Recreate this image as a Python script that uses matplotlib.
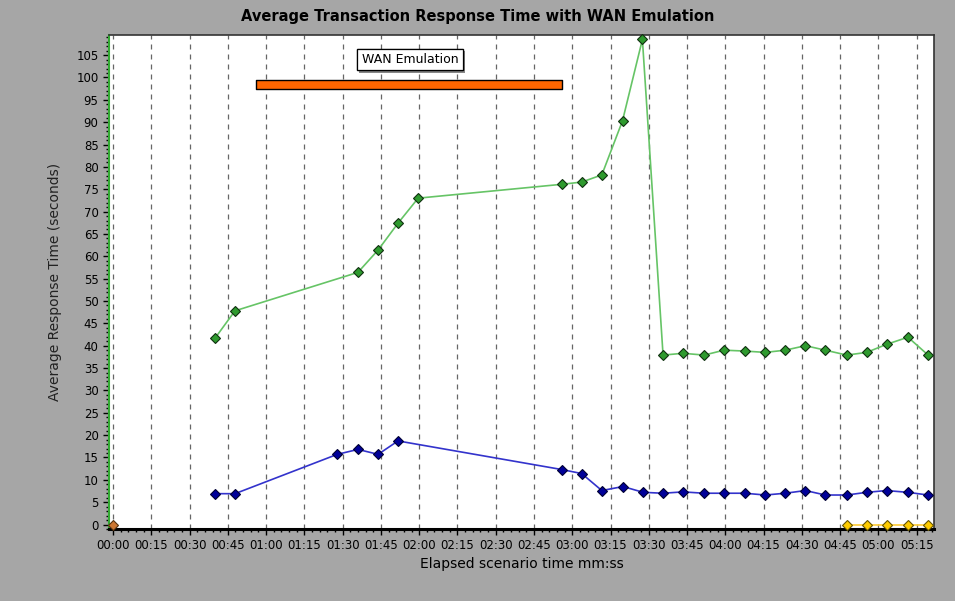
import matplotlib
matplotlib.use("Agg")
import matplotlib.pyplot as plt
from matplotlib.ticker import MultipleLocator, FuncFormatter
import matplotlib.patheffects as pe

# ---- data (times in seconds) ----
green_t = [40, 47.8, 96, 103.9, 111.7, 119.6, 175.9, 183.7, 191.6, 199.7, 207.5,
           215.6, 223.4, 231.7, 239.5, 247.6, 255.7, 263.5, 271.4, 279.2, 287.6,
           295.4, 303.2, 311.6, 319.5]
green_v = [41.7, 47.8, 56.4, 61.4, 67.4, 73.0, 76.1, 76.6, 78.2, 90.3, 108.5,
           37.9, 38.3, 37.9, 39.0, 38.8, 38.5, 39.0, 40.0, 39.0, 37.9,
           38.5, 40.3, 41.9, 37.9]

blue_t = [40, 47.8, 87.9, 96, 103.9, 111.7, 175.9, 183.7, 191.6, 199.9, 207.8,
          215.6, 223.4, 231.7, 239.5, 247.6, 255.7, 263.5, 271.4, 279.2, 287.6,
          295.4, 303.2, 311.6, 319.5]
blue_v = [6.9, 6.9, 15.7, 16.8, 15.7, 18.7, 12.3, 11.4, 7.6, 8.5, 7.2,
          7.0, 7.3, 7.0, 7.0, 7.0, 6.6, 7.0, 7.6, 6.6, 6.6,
          7.2, 7.6, 7.2, 6.6]

yellow_t = [287.6, 295.4, 303.2, 311.6, 319.5]
yellow_v = [0, 0, 0, 0, 0]

brown_t = [0]
brown_v = [0]

wan_start = 55.9
wan_end = 176.1
wan_label = "WAN Emulation"

bg = "#a6a6a6"
fig = plt.figure(figsize=(9.55, 6.01), dpi=100, facecolor=bg)
ax = fig.add_axes([0.1141, 0.1198, 0.978 - 0.1141, 0.9418 - 0.1198])
ax.set_facecolor("white")

ax.set_xlim(-1.6, 321.8)
ax.set_ylim(-1.0, 109.5)
ax.xaxis.set_major_locator(MultipleLocator(15))
ax.xaxis.set_minor_locator(MultipleLocator(3))
ax.yaxis.set_major_locator(MultipleLocator(5))
ax.yaxis.set_minor_locator(MultipleLocator(1))
ax.xaxis.grid(True, which="major", color="#666666", linestyle=(0, (4, 4)), linewidth=0.9)
ax.yaxis.grid(False)

ax.xaxis.set_major_formatter(FuncFormatter(lambda v, p: f"{int(v)//60:02d}:{int(v)%60:02d}"))

# WAN emulation bar
ax.broken_barh([(wan_start, wan_end - wan_start)], (97.5, 1.9),
               facecolors="#ff6600", edgecolors="black", linewidth=1.0, zorder=3)
t = ax.text(116.4, 104.0, wan_label, fontsize=9, ha="center", va="center",
            family="DejaVu Sans", zorder=4,
            bbox=dict(boxstyle="square,pad=0.35", fc="white", ec="black", lw=0.9))
t.get_bbox_patch().set_path_effects([pe.withSimplePatchShadow(offset=(1.5, -1.5), shadow_rgbFace="#888888", alpha=1), pe.Normal()])

# series
ax.plot(green_t, green_v, color="#66c466", lw=1.2, marker="D", markersize=5.5,
        markerfacecolor="#2e9a2e", markeredgecolor="#103010", markeredgewidth=0.8, zorder=5, clip_on=False)
ax.plot(blue_t, blue_v, color="#3333cc", lw=1.2, marker="D", markersize=5.5,
        markerfacecolor="#000099", markeredgecolor="#000033", markeredgewidth=0.8, zorder=5)
ax.plot(yellow_t, yellow_v, color="#ffcc33", lw=1.2, marker="D", markersize=5.5,
        markerfacecolor="#ffcc00", markeredgecolor="#665500", markeredgewidth=0.8, zorder=5, clip_on=False)
ax.plot(brown_t, brown_v, lw=0, marker="D", markersize=5.5,
        markerfacecolor="#cc7733", markeredgecolor="#553311", markeredgewidth=0.8, zorder=6, clip_on=False)

# spines
ax.spines["left"].set_color("#33aa33")
ax.spines["left"].set_linewidth(1.5)
ax.spines["bottom"].set_color("black")
ax.spines["bottom"].set_linewidth(2.2)
ax.spines["top"].set_color("#333333")
ax.spines["top"].set_linewidth(1.2)
ax.spines["right"].set_color("#333333")
ax.spines["right"].set_linewidth(1.2)

ax.tick_params(axis="both", which="major", direction="out", length=4, width=1, color="black",
               labelsize=8.5, labelcolor="black")
ax.tick_params(axis="both", which="minor", direction="out", length=2.5, width=1, color="black")

ax.set_xlabel("Elapsed scenario time mm:ss", fontsize=10, labelpad=3)
ax.set_ylabel("Average Response Time (seconds)", fontsize=10, labelpad=10, color="#222222")

fig.suptitle("Average Transaction Response Time with WAN Emulation", fontsize=10.5,
             fontweight="bold", y=0.985)

fig.savefig("out.png", dpi=100, facecolor=bg)
